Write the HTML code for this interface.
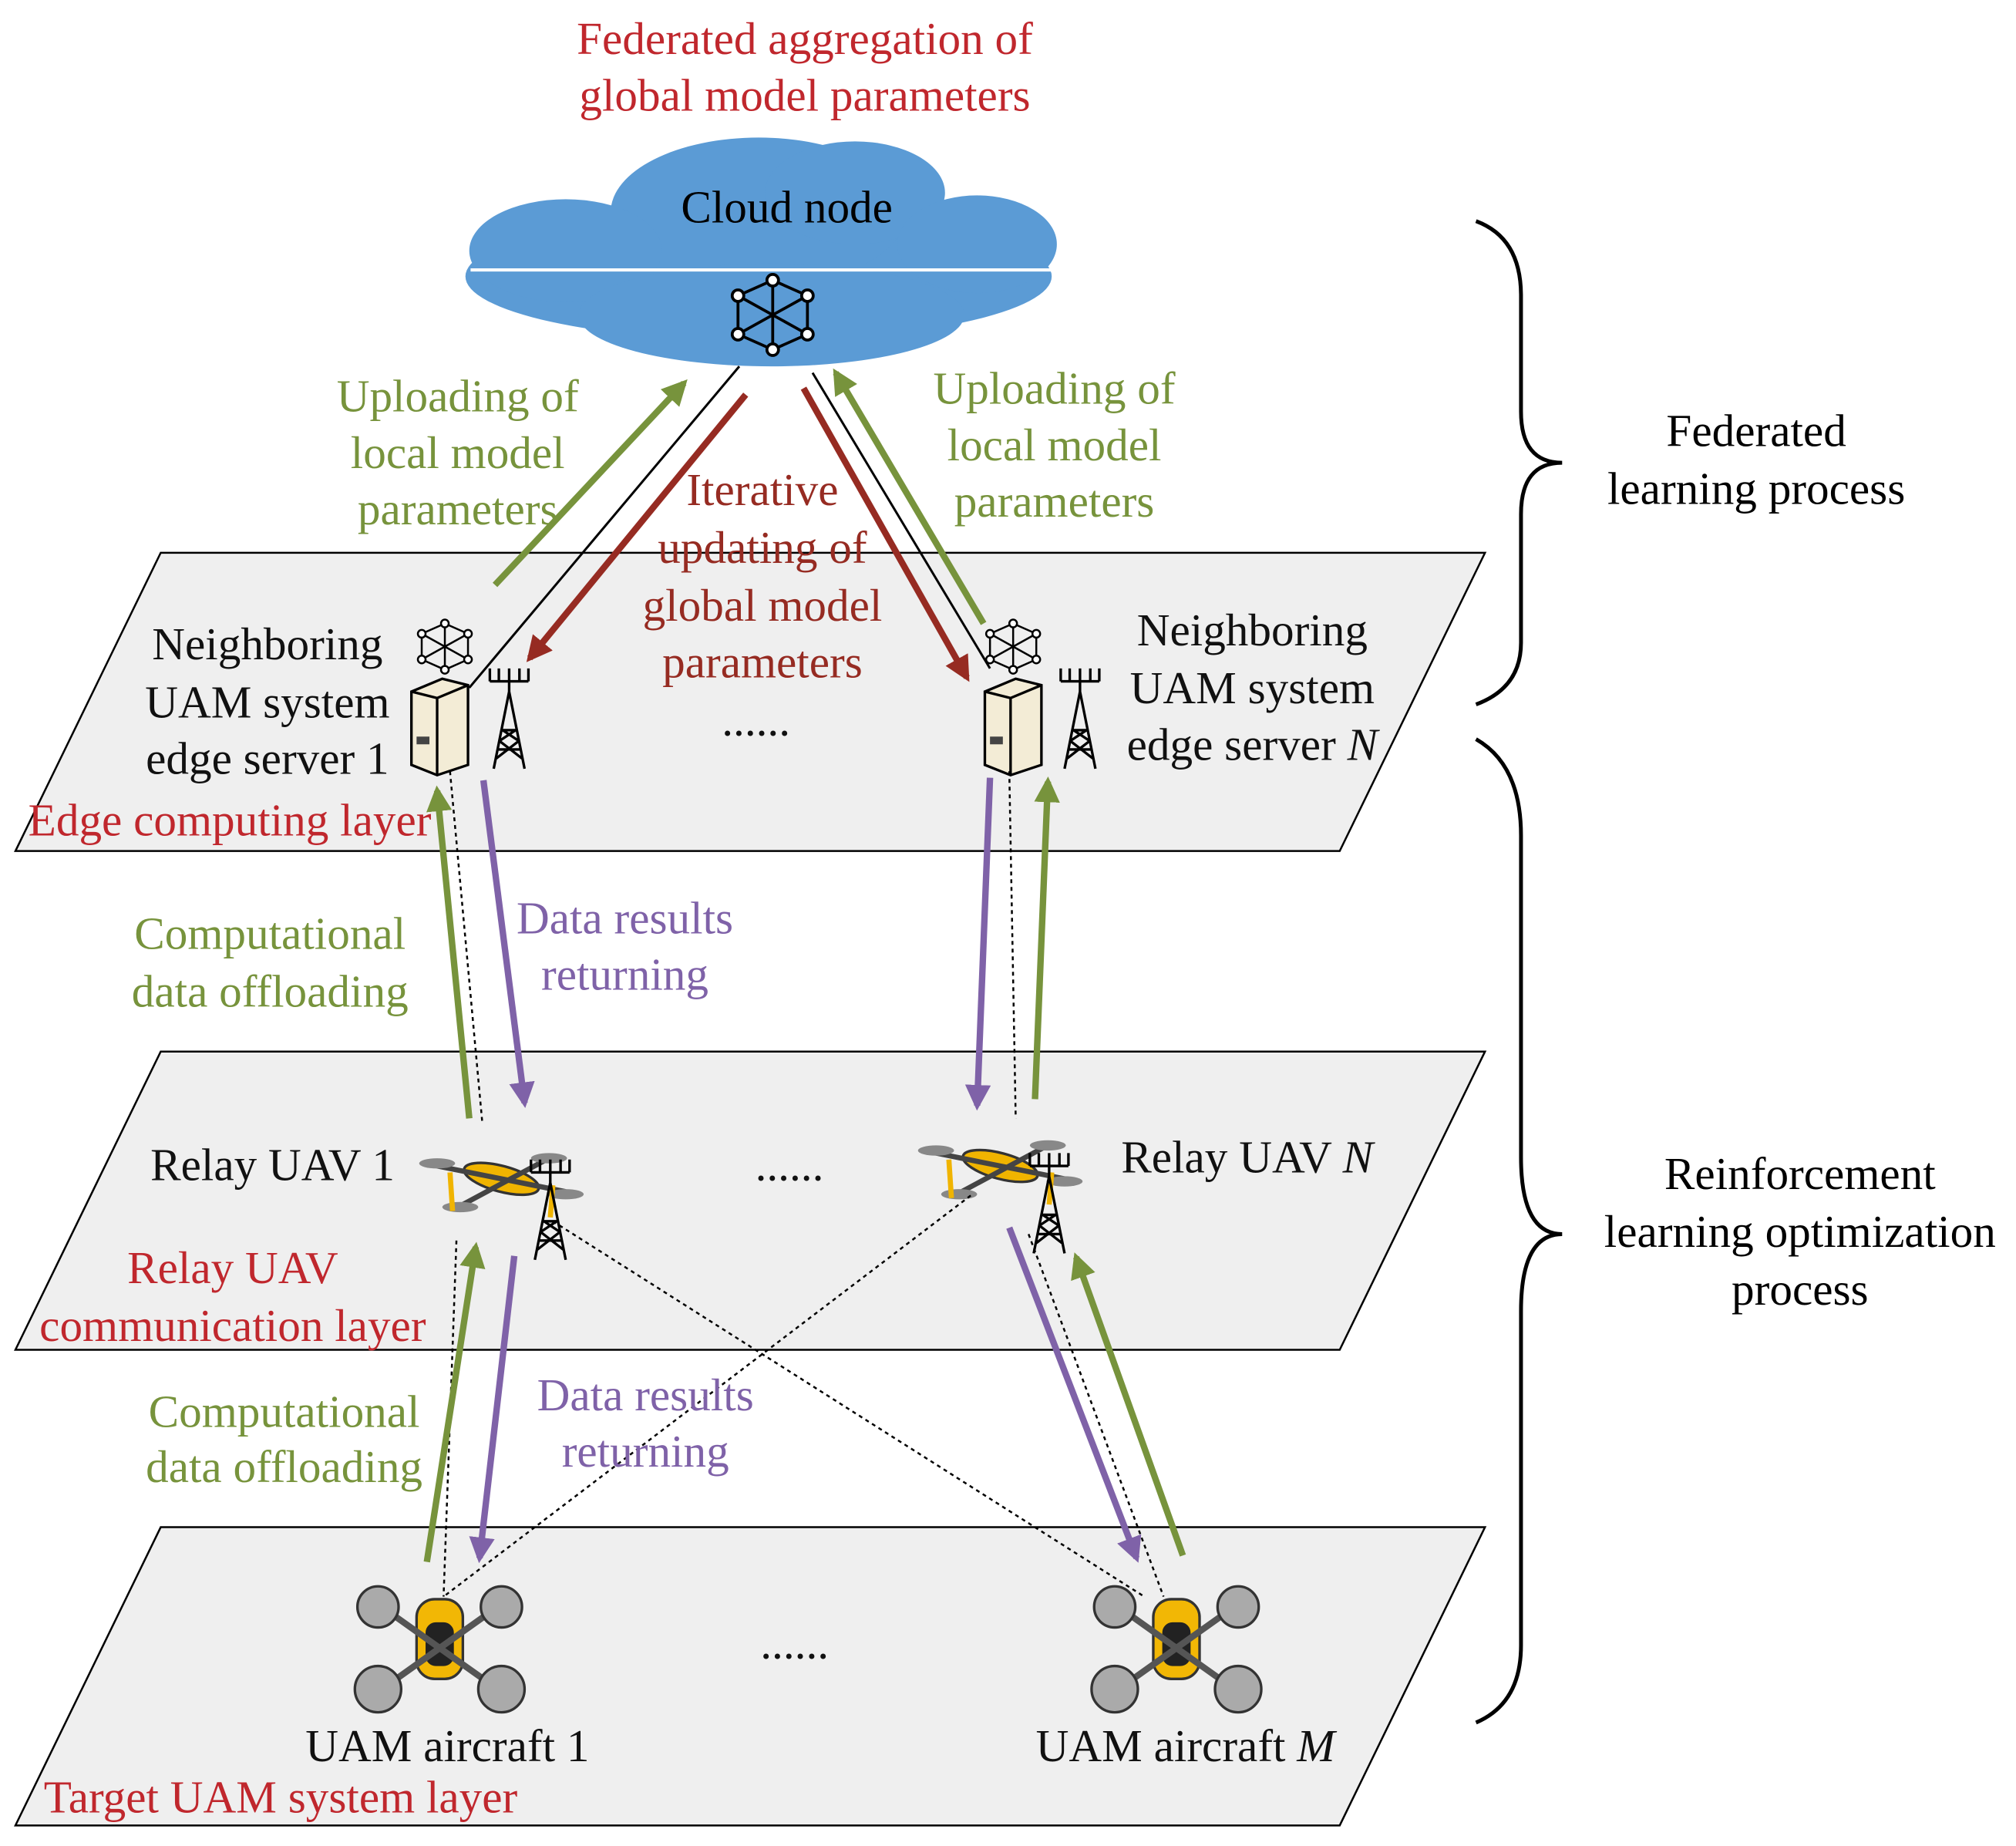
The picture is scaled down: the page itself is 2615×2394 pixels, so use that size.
<!DOCTYPE html>
<html><head><meta charset="utf-8"><style>
html,body{margin:0;padding:0;background:#fff}
svg{display:block}
text{font-family:"Liberation Serif",serif;font-size:35.5px}
</style></head><body>
<svg width="2615" height="2394" viewBox="0 0 1568 1436" preserveAspectRatio="none" xmlns="http://www.w3.org/2000/svg">
<defs>
<marker id="ag" viewBox="0 0 10 10" refX="8" refY="5" markerWidth="4" markerHeight="4" orient="auto"><path d="M0,0L10,5L0,10z" fill="#77933c"/></marker>
<marker id="ar" viewBox="0 0 10 10" refX="8" refY="5" markerWidth="4" markerHeight="4" orient="auto"><path d="M0,0L10,5L0,10z" fill="#962b22"/></marker>
<marker id="ap" viewBox="0 0 10 10" refX="8" refY="5" markerWidth="4" markerHeight="4" orient="auto"><path d="M0,0L10,5L0,10z" fill="#7f62a8"/></marker>
<g id="tower" stroke="#000" stroke-width="2" fill="none"><path d="M0,0L-12,60M0,0L12,60M-9,45L9,45M-6,30L6,30M-10,52L8,38M10,52L-8,38M-7,38L5,30M7,38L-5,30M-15,-18V-8M-8,-18V-8M0,-18V0M8,-18V-8M15,-18V-8M-15,-8H15"/></g>
<g id="net" stroke="#000" stroke-width="1.5" fill="#fff"><path d="M-18,-10L0,-18L18,-10L18,10L0,18L-18,10Z M-18,-10L18,10 M18,-10L-18,10 M0,-18L0,18" fill="none"/><circle cx="-18" cy="-10" r="3"/><circle cx="18" cy="-10" r="3"/><circle cx="-18" cy="10" r="3"/><circle cx="18" cy="10" r="3"/><circle cx="0" cy="-18" r="3"/><circle cx="0" cy="18" r="3"/></g>
<g id="server"><path d="M-22,-25L2,-35L22,-30L22,32L-2,40L-22,32Z" fill="#f3ecd6" stroke="#000" stroke-width="2"/><path d="M-22,-25L-2,-20L-2,40M-2,-20L22,-30" fill="none" stroke="#000" stroke-width="2"/><rect x="-18" y="10" width="10" height="6" fill="#444"/></g>
<g id="drone"><ellipse cx="0" cy="0" rx="30" ry="10" fill="#f0b400" stroke="#333" stroke-width="2" transform="rotate(15)"/><path d="M-50,-10L50,10M-30,20L35,-15" stroke="#444" stroke-width="4"/><ellipse cx="-50" cy="-12" rx="14" ry="4" fill="#888"/><ellipse cx="50" cy="12" rx="14" ry="4" fill="#888"/><ellipse cx="-32" cy="22" rx="14" ry="4" fill="#888"/><ellipse cx="37" cy="-16" rx="14" ry="4" fill="#888"/><path d="M-40,-5L-38,25M40,5L38,30" stroke="#f0b400" stroke-width="4"/></g>
<g id="uam"><rect x="-18" y="-28" width="36" height="62" rx="14" fill="#f2b705" stroke="#333" stroke-width="2"/><rect x="-11" y="-10" width="22" height="34" rx="8" fill="#222"/><path d="M-45,-22L45,42M45,-22L-45,42" stroke="#555" stroke-width="5"/><g fill="#aaa" stroke="#333" stroke-width="2"><circle cx="-48" cy="-22" r="16"/><circle cx="48" cy="-22" r="16"/><circle cx="-48" cy="42" r="18"/><circle cx="48" cy="42" r="18"/></g></g>
</defs>

<g fill="#efefef" stroke="#000" stroke-width="1.5">
<path d="M125,430H1155L1042,662H12Z"/>
<path d="M125,818H1155L1042,1050H12Z"/>
<path d="M125,1188H1155L1042,1420H12Z"/>
</g>

<g fill="#5b9bd5">
<ellipse cx="590" cy="215" rx="228" ry="50"/>
<ellipse cx="590" cy="165" rx="115" ry="58"/>
<ellipse cx="665" cy="150" rx="70" ry="40"/>
<ellipse cx="440" cy="195" rx="75" ry="40"/>
<ellipse cx="760" cy="190" rx="62" ry="38"/>
<ellipse cx="600" cy="245" rx="150" ry="40"/>
</g>
<line x1="366" y1="210" x2="818" y2="210" stroke="#fff" stroke-width="2.5"/>
<use href="#net" transform="translate(601,245) scale(1.5)"/>
<text x="612" y="173" text-anchor="middle">Cloud node</text>

<text x="626" y="42" text-anchor="middle" fill="#c0272d">Federated aggregation of</text>
<text x="626" y="86" text-anchor="middle" fill="#c0272d">global model parameters</text>

<g fill="none" stroke="#000" stroke-width="3">
<path d="M1148,172Q1183,185 1183,230V320Q1183,360 1215,360Q1183,360 1183,400V500Q1183,535 1148,548"/>
<path d="M1148,575Q1183,595 1183,650V900Q1183,960 1215,960Q1183,960 1183,1020V1280Q1183,1325 1148,1340"/>
</g>
<text x="1366" y="347" text-anchor="middle">Federated</text>
<text x="1366" y="392" text-anchor="middle">learning process</text>
<text x="1400" y="925" text-anchor="middle">Reinforcement</text>
<text x="1400" y="970" text-anchor="middle">learning optimization</text>
<text x="1400" y="1015" text-anchor="middle">process</text>

<use href="#net" x="346" y="503"/>
<use href="#tower" x="396" y="538"/>
<use href="#server" x="342" y="563"/>
<use href="#net" x="788" y="503"/>
<use href="#tower" x="840" y="538"/>
<use href="#server" x="788" y="563"/>
<use href="#drone" x="390" y="917"/>
<use href="#tower" x="428" y="920"/>
<use href="#drone" x="778" y="907"/>
<use href="#tower" x="816" y="915"/>
<use href="#uam" x="342" y="1272"/>
<use href="#uam" x="915" y="1272"/>

<g stroke="#000" stroke-width="1.8">
<line x1="575" y1="285" x2="365" y2="535"/>
<line x1="632" y1="290" x2="770" y2="520"/>
</g>
<g stroke="#000" stroke-width="1.5" stroke-dasharray="3,3" fill="none">
<line x1="350" y1="600" x2="375" y2="872"/>
<line x1="785" y1="600" x2="790" y2="870"/>
<line x1="355" y1="965" x2="345" y2="1242"/>
<line x1="430" y1="950" x2="890" y2="1242"/>
<line x1="755" y1="930" x2="345" y2="1242"/>
<line x1="800" y1="960" x2="905" y2="1242"/>
</g>
<g stroke-width="5" fill="none">
<line x1="385" y1="455" x2="532" y2="298" stroke="#77933c" marker-end="url(#ag)"/>
<line x1="580" y1="307" x2="412" y2="512" stroke="#962b22" marker-end="url(#ar)"/>
<line x1="625" y1="302" x2="752" y2="527" stroke="#962b22" marker-end="url(#ar)"/>
<line x1="765" y1="485" x2="650" y2="290" stroke="#77933c" marker-end="url(#ag)"/>
<line x1="365" y1="870" x2="340" y2="615" stroke="#77933c" marker-end="url(#ag)"/>
<line x1="376" y1="607" x2="408" y2="858" stroke="#7f62a8" marker-end="url(#ap)"/>
<line x1="770" y1="605" x2="760" y2="860" stroke="#7f62a8" marker-end="url(#ap)"/>
<line x1="805" y1="855" x2="815" y2="608" stroke="#77933c" marker-end="url(#ag)"/>
<line x1="332" y1="1215" x2="370" y2="970" stroke="#77933c" marker-end="url(#ag)"/>
<line x1="400" y1="977" x2="373" y2="1212" stroke="#7f62a8" marker-end="url(#ap)"/>
<line x1="785" y1="955" x2="884" y2="1212" stroke="#7f62a8" marker-end="url(#ap)"/>
<line x1="920" y1="1210" x2="837" y2="978" stroke="#77933c" marker-end="url(#ag)"/>
</g>

<g fill="#77933c" text-anchor="middle">
<text x="356" y="320">Uploading of</text><text x="356" y="364">local model</text><text x="356" y="408">parameters</text>
<text x="820" y="314">Uploading of</text><text x="820" y="358">local model</text><text x="820" y="402">parameters</text>
<text x="210" y="738">Computational</text><text x="210" y="783">data offloading</text>
<text x="221" y="1110">Computational</text><text x="221" y="1153">data offloading</text>
</g>
<g fill="#962b22" text-anchor="middle">
<text x="593" y="393">Iterative</text><text x="593" y="438">updating of</text><text x="593" y="483">global model</text><text x="593" y="527">parameters</text>
</g>
<g fill="#7f62a8" text-anchor="middle">
<text x="486" y="726">Data results</text><text x="486" y="770">returning</text>
<text x="502" y="1097">Data results</text><text x="502" y="1141">returning</text>
</g>
<g fill="#111">
<text x="208" y="513" text-anchor="middle">Neighboring</text>
<text x="208" y="558" text-anchor="middle">UAM system</text>
<text x="208" y="602" text-anchor="middle">edge server 1</text>
<text x="974" y="502" text-anchor="middle">Neighboring</text>
<text x="974" y="547" text-anchor="middle">UAM system</text>
<text x="974" y="591" text-anchor="middle">edge server <tspan font-style="italic">N</tspan></text>
<text x="588" y="572" text-anchor="middle">......</text>
<text x="212" y="918" text-anchor="middle">Relay UAV 1</text>
<text x="970" y="912" text-anchor="middle">Relay UAV <tspan font-style="italic">N</tspan></text>
<text x="614" y="918" text-anchor="middle">......</text>
<text x="618" y="1290" text-anchor="middle">......</text>
<text x="348" y="1370" text-anchor="middle">UAM aircraft 1</text>
<text x="922" y="1370" text-anchor="middle">UAM aircraft <tspan font-style="italic">M</tspan></text>
</g>
<g fill="#c0272d">
<text x="22" y="650">Edge computing layer</text>
<text x="181" y="998" text-anchor="middle">Relay UAV</text>
<text x="181" y="1043" text-anchor="middle">communication layer</text>
<text x="34" y="1410">Target UAM system layer</text>
</g>
</svg>
</body></html>
